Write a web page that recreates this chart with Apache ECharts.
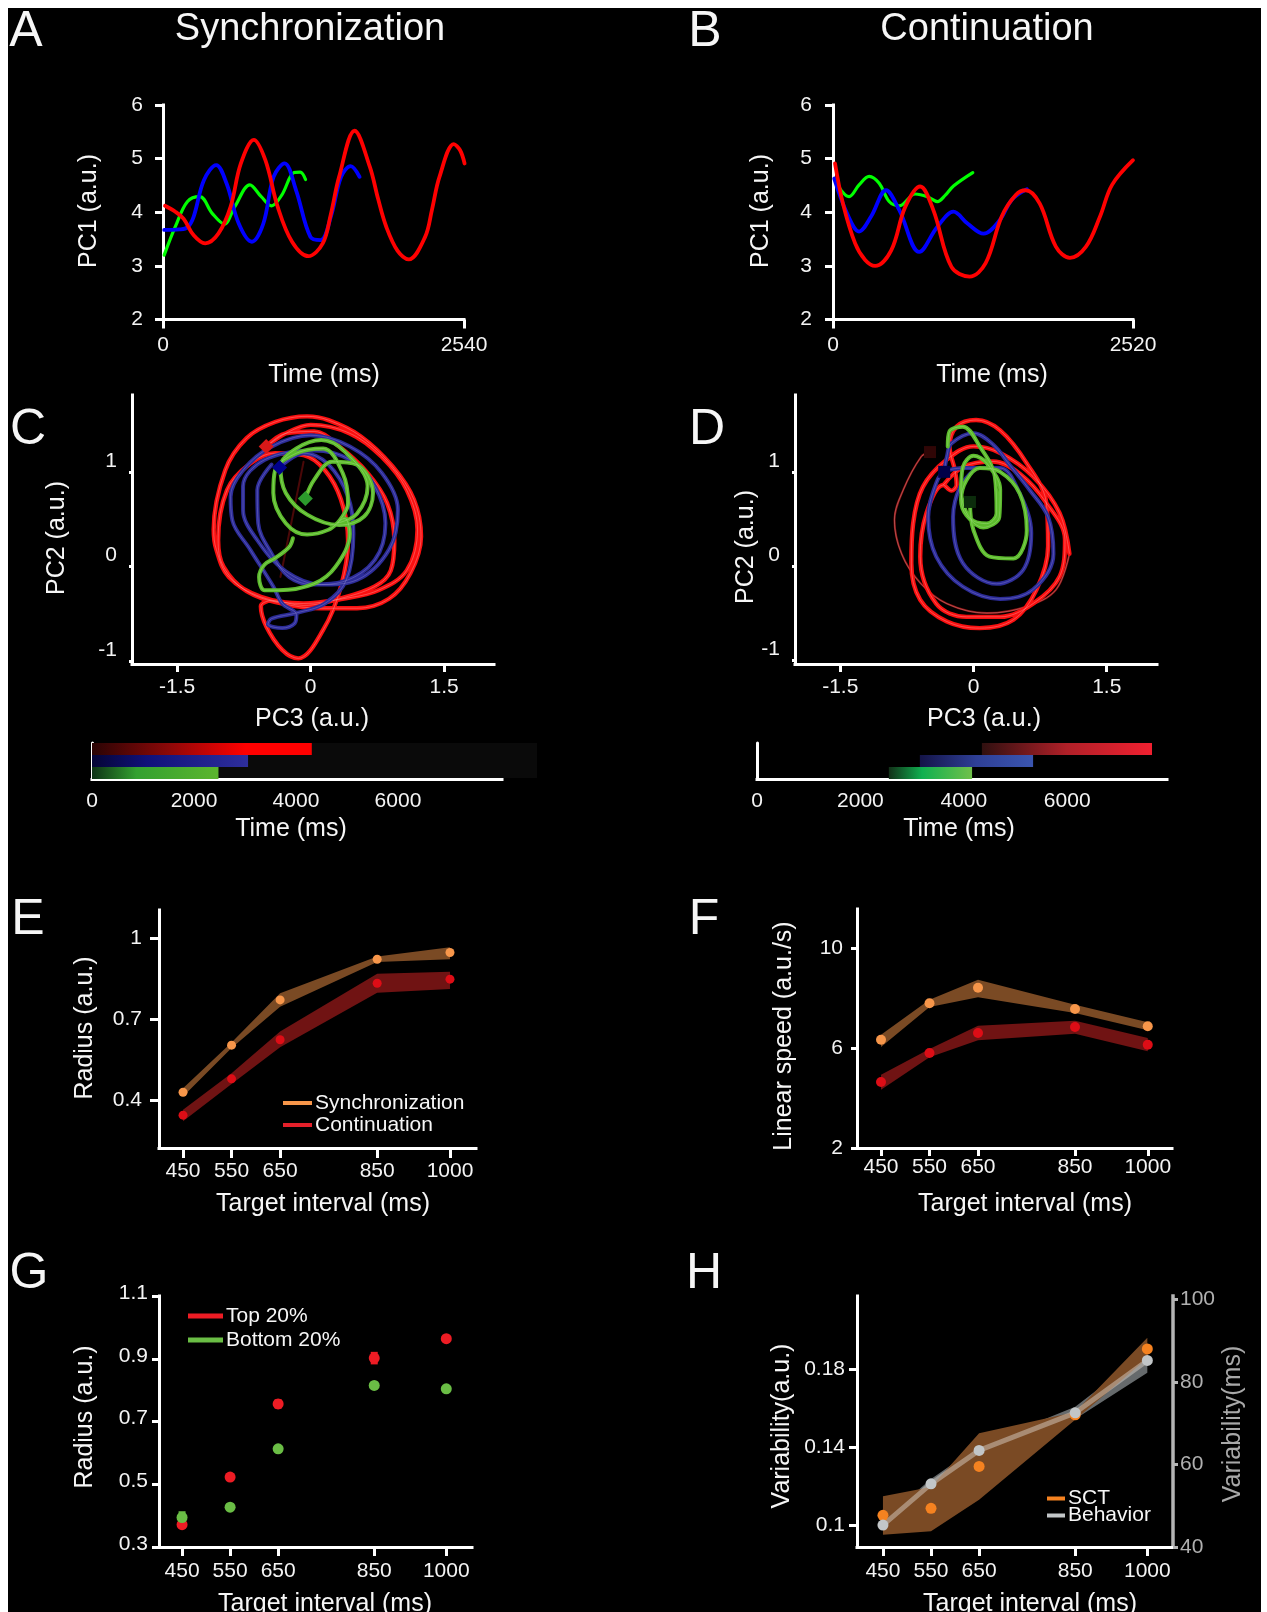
<!DOCTYPE html>
<html><head><meta charset="utf-8">
<script src="https://cdn.jsdelivr.net/npm/echarts@6/dist/echarts.min.js"></script>
<style>
html,body{margin:0;padding:0;background:#fff;}
#bg{position:absolute;left:8px;top:8px;width:1253px;height:1604px;background:#000;}
#c{position:absolute;left:0;top:0;width:1267px;height:1612px;}
</style></head><body><div id="bg"></div><div id="c"></div>
<script>
// ---------- DATA ----------
const targetIntervals=[450,550,650,850,1000];
// A: PC1 vs time, synchronization
const aRed=[[17,4.12],[104,4.01],[173,3.88],[259,3.57],[356,3.42],[467,3.60],[570,4.10],[657,4.91],[767,5.35],[864,4.97],[968,4.10],[1089,3.45],[1227,3.18],[1348,3.42],[1415,3.95],[1486,4.66],[1617,5.52],[1745,4.85],[1815,4.25],[1884,3.73],[1980,3.28],[2074,3.12],[2212,3.54],[2270,4.05],[2333,4.66],[2454,5.27],[2506,5.16],[2545,4.91]];
const aBlue=[[10,3.67],[138,3.68],[207,3.72],[259,3.92],[346,4.60],[449,4.88],[536,4.54],[639,3.79],[750,3.45],[847,3.79],[933,4.66],[1026,4.91],[1123,4.41],[1244,3.54],[1331,3.48],[1417,3.92],[1503,4.66],[1583,4.86],[1659,4.66]];
const aGreen=[[10,3.20],[104,3.73],[207,4.20],[311,4.29],[415,3.98],[518,3.78],[605,4.10],[733,4.51],[829,4.29],[916,4.12],[1002,4.32],[1106,4.74],[1158,4.75],[1203,4.61]];
// B: PC1 vs time, continuation
const bRed=[[17,4.91],[84,4.16],[186,3.42],[270,3.11],[354,3.00],[489,3.29],[607,4.10],[732,4.48],[843,4.04],[995,2.98],[1147,2.80],[1282,3.05],[1417,3.92],[1535,4.32],[1619,4.41],[1737,4.16],[1872,3.36],[1990,3.15],[2125,3.36],[2243,3.92],[2344,4.51],[2520,4.97]];
const bBlue=[[10,4.63],[118,3.98],[219,3.64],[320,3.92],[445,4.41],[557,4.04],[725,3.26],[877,3.73],[1012,4.01],[1130,3.79],[1265,3.60],[1400,3.85],[1501,4.23],[1629,4.43]];
const bGreen=[[34,4.57],[67,4.41],[135,4.29],[219,4.51],[304,4.67],[388,4.54],[472,4.20],[557,4.12],[691,4.34],[793,4.29],[877,4.20],[944,4.32],[1012,4.49],[1174,4.74]];
// C: PC3/PC2 trajectories, synchronization
const cRed=[[-.50,1.27],[-.28,1.41],[0,1.50],[.44,1.41],[.80,1.16],[1.08,.81],[1.20,.39],[1.08,-.04],[.76,-.25],[.36,-.34],[-.08,-.39],[-.56,-.32],[-.92,-.11],[-1.06,.18],[-1.09,.39],[-.96,1.02],[-.72,1.36],[-.40,1.53],[-.04,1.59],[.20,1.55],[.56,1.38],[.92,1.06],[1.16,.71],[1.24,.32],[1.12,-.07],[.88,-.34],[.52,-.44],[.12,-.44],[-.32,-.39],[-.72,-.26],[-.98,0],[-1.04,.28],[-.94,.81],[-.68,1.09],[-.40,1.20],[-.08,1.18],[.16,1.02],[.34,.71],[.42,.28],[.34,-.21],[.14,-.67],[-.14,-.97],[-.32,-.88],[-.50,-.63],[-.56,-.42],[-.44,-.36],[-.08,-.41],[.32,-.34],[.72,-.21],[.90,-.04],[.94,.28],[.86,.67],[.64,.99],[.32,1.27],[.04,1.43],[-.28,1.41],[-.50,1.27]];
const cBlue=[[-.35,1.05],[-.08,1.20],[.20,1.08],[.42,.74],[.48,.35],[.40,-.14],[.16,-.39],[-.16,-.49],[-.44,-.55],[-.48,-.61],[-.32,-.65],[-.18,-.60],[-.16,-.51],[-.32,-.39],[-.42,-.21],[-.68,.18],[-.88,.49],[-.90,.74],[-.76,1.02],[-.44,1.27],[0,1.39],[.44,1.27],[.80,.99],[.98,.60],[.88,.18],[.52,-.14],[.12,-.19],[-.28,-.05],[-.60,.28],[-.76,.60],[-.76,.85],[-.52,1.13],[.04,1.23],[.44,1.13],[.72,.85],[.84,.46],[.72,.07],[.36,-.16],[.04,-.19],[-.24,-.11],[-.44,.14],[-.59,.46],[-.60,.81],[-.44,1.08]];
const cGreen=[[-.06,.72],[.04,.92],[.24,1.11],[.52,1.08],[.70,.78],[.60,.53],[.32,.44],[-.04,.55],[-.28,.78],[-.34,1.06],[-.16,1.25],[.12,1.34],[.38,1.22],[.64,.85],[.52,.56],[.30,.46],[.42,.67],[.36,.99],[.14,1.25],[-.16,1.20],[-.40,1.02],[-.42,.78],[-.28,.46],[-.04,.34],[.20,.39],[.38,.51],[.44,.35],[.28,0],[.04,-.18],[-.36,-.25],[-.52,-.25],[-.58,-.11],[-.52,.02],[-.40,.09],[-.24,.21],[-.20,.30]];
const cStartRed=[[-.50,1.27]], cStartBlue=[[-.35,1.05]], cStartGreen=[[-.06,.72]];
const cFaintRed=[[-.34,-.11],[-.08,1.11]];
// D: PC3/PC2 trajectories, continuation
const dRedStart=[[-.49,1.21],[-.59,1.16],[-.79,.81],[-.89,.49],[-.81,.13],[-.60,-.18],[-.30,-.40],[.15,-.50],[.60,-.43],[.93,-.25],[1.08,.13]];
const dRed=[[1.08,.13],[.97,.56],[.67,.95],[.30,1.20],[0,1.27],[-.30,1.13],[-.57,.84],[-.68,.45],[-.70,.03],[-.60,-.36],[-.30,-.59],[.07,-.66],[.45,-.57],[.71,-.25],[.84,.21],[.82,.67],[.60,1.09],[.30,1.44],[.03,1.55],[-.19,1.48],[-.27,1.27],[-.21,1.02],[-.19,.86],[-.25,.80],[-.34,.86],[-.53,.56],[-.60,.10],[-.42,-.40],[-.08,-.54],[.30,-.54],[.67,-.40],[.97,-.11],[1.03,.28],[.82,.67],[.52,.98],[.22,1.11],[-.12,1.05],[-.34,.86]];
const dBlue=[[-.33,1.00],[-.30,1.16],[-.25,1.30],[0,1.41],[.22,1.29],[.41,1.07],[.63,.81],[.84,.52],[.90,.13],[.67,-.25],[.30,-.35],[-.12,-.22],[-.42,.10],[-.51,.52],[-.42,.88],[-.33,1.00],[-.08,1.04],[.30,1.04],[.52,.77],[.65,.35],[.56,-.04],[.26,-.19],[-.12,.03],[-.23,.52],[-.15,.84],[.03,1.04]];
const dGreen=[[-.04,.68],[0,.38],[.18,.10],[.45,.08],[.60,.38],[.52,.77],[.30,1.00],[.07,1.04],[-.08,.91],[-.14,.70],[-.08,.54],[.11,.41],[.29,.52],[.30,.81],[.15,1.09],[0,1.17],[-.12,1.05],[-.14,.81],[-.04,.51],[.15,.45],[.26,.56],[.24,.95],[.07,1.27],[-.12,1.48],[-.27,1.43],[-.29,1.27]];
const dStartRed=[[-.49,1.21]], dStartBlue=[[-.33,1.00]], dStartGreen=[[-.04,.68]];
// time bars (start, end in ms): green, blue, red
const barRows=['Green','Blue','Red'];
const cBarStart=[0,0,0], cBarEnd=[2480,3060,4310];
const dBarStart=[2550,3150,4350], dBarEnd=[4160,5340,7640];
const timeTicks=[0,2000,4000,6000];
// E: radius
const eSync=[.428,.603,.771,.922,.947], eSyncHi=[.443,.613,.796,.932,.967], eSyncLo=[.412,.592,.746,.912,.922];
const eCont=[.343,.478,.623,.833,.848], eContHi=[.363,.499,.654,.868,.876], eContLo=[.320,.459,.595,.798,.812];
// F: linear speed
const fSync=[6.33,7.79,8.41,7.56,6.87], fSyncHi=[6.53,7.93,8.73,7.73,7.03], fSyncLo=[6.04,7.64,8.03,7.40,6.71];
const fCont=[4.64,5.80,6.60,6.84,6.13], fContHi=[4.93,5.96,6.89,7.09,6.40], fContLo=[4.33,5.63,6.31,6.57,5.87];
// G: radius, top/bottom 20%
const gTop=[.371,.523,.756,.902,.964], gTopErr=[.006,.012,.015,.02,.006];
const gBottom=[.394,.427,.613,.815,.804], gBottomErr=[.02,.006,.006,.006,.006];
// H: variability
const hSct=[.1051,.1087,.1301,.1565,.1902], hSctHi=[.1148,.1196,.1471,.158,.196], hSctLo=[.0952,.0969,.1131,.154,.1854];
const hBeh=[45.3,55.3,63.4,72.5,85.2], hBehHi=[46.4,56.5,64.5,74,87.4], hBehLo=[44,54,62.2,71,82.2];

// ---------- HELPERS ----------
const FF='"Liberation Sans",Arial,sans-serif', WHITE='#ffffff';
const grids=[],xAxis=[],yAxis=[],series=[],graphic=[],legends=[];
function grid(l,t,r,b){grids.push({left:l,top:t,width:r-l,height:b-t,containLabel:false});return grids.length-1;}
function axis(list,g,o){
  const c=o.color||WHITE;
  const a={type:'value',gridIndex:g,min:o.min,max:o.max,position:o.position,
    axisLine:{show:true,onZero:false,lineStyle:{color:c,width:o.lw||3,cap:'square'}},
    axisTick:{show:o.tl>0,length:o.tl||0,customValues:o.ticks,lineStyle:{color:c,width:o.tw||3}},
    axisLabel:{show:true,customValues:o.ticks,margin:o.margin,color:o.labelColor||'#f4f4f4',fontSize:o.fs||21,fontFamily:FF,hideOverlap:false,showMinLabel:true,showMaxLabel:true,formatter:v=>String(v)},
    splitLine:{show:false}};
  if(o.lift){a.axisLabel.verticalAlign='bottom';a.axisLabel.lineHeight=o.lift*2;}
  list.push(a);return list.length-1;
}
const SM=.36;
function line(name,x,y,data,color,w,hi){
  series.push({type:'line',name,xAxisIndex:x,yAxisIndex:y,data,smooth:SM,showSymbol:false,symbol:'none',clip:false,silent:true,
    lineStyle:{color,width:w,cap:'round',join:'round'},z:3});
  if(hi)series.push({type:'line',name:name+' highlight',xAxisIndex:x,yAxisIndex:y,data,smooth:SM,showSymbol:false,symbol:'none',clip:false,silent:true,
    lineStyle:{color:hi,width:.8},z:3});
}
function dots(name,x,y,xs,vals,color,size,sym){
  series.push({type:'scatter',name,xAxisIndex:x,yAxisIndex:y,data:xs?xs.map((v,i)=>[v,vals[i]]):vals,symbol:sym||'circle',symbolSize:size,clip:false,silent:true,itemStyle:{color,opacity:1},z:6});
}
function band(name,x,y,xs,lo,hi,color,z){
  series.push({type:'custom',name,xAxisIndex:x,yAxisIndex:y,silent:true,clip:false,z:z||2,
    data:xs.map((v,i)=>[v,lo[i],hi[i]]),encode:{x:0,y:[1,2]},
    renderItem(p,api){
      if(p.dataIndex!==0)return null;
      const up=xs.map((v,i)=>api.coord([v,hi[i]])),dn=xs.map((v,i)=>api.coord([v,lo[i]])).reverse();
      return {type:'polygon',shape:{points:up.concat(dn)},style:{fill:color},silent:true};
    }});
}
function errs(name,x,y,xs,vals,err,color,w){
  series.push({type:'custom',name,xAxisIndex:x,yAxisIndex:y,silent:true,clip:false,z:5,
    data:xs.map((v,i)=>[v,vals[i]-err[i],vals[i]+err[i]]),encode:{x:0,y:[1,2]},
    renderItem(p,api){
      const a=api.coord([api.value(0),api.value(2)]),b=api.coord([api.value(0),api.value(1)]);
      return {type:'rect',shape:{x:a[0]-w/2,y:a[1],width:w,height:b[1]-a[1]},style:{fill:color}};
    }});
}
function txt(text,x,y,size,rot,color){
  graphic.push({type:'text',x,y:rot?y:y+2,rotation:rot?Math.PI/2:0,silent:true,z:20,
    style:{text,fill:color||'#f6f6f6',fontSize:size,fontFamily:FF,align:'center',verticalAlign:'middle'}});
}
function legend(left,top,w,h,names,colors,lh,gap){
  legends.push({show:true,left,top,orient:'vertical',padding:0,itemGap:gap||0,itemWidth:w,itemHeight:h,selectedMode:false,align:'left',itemStyle:{borderWidth:0},
    textStyle:{color:'#f6f6f6',fontSize:21,fontFamily:FF,lineHeight:lh,padding:[0,0,0,-2]},
    data:names.map((n,i)=>({name:n,icon:'rect',itemStyle:{color:colors[i]}}))});
}
function grad(stops){return {type:'linear',x:0,y:0,x2:1,y2:0,colorStops:stops.map((c,i)=>({offset:c[0],color:c[1]}))};}
function bars(name,x,y,start,end,grads){
  series.push({type:'bar',name:name+' base',xAxisIndex:x,yAxisIndex:y,stack:name,silent:true,barWidth:'100%',data:start,itemStyle:{color:'transparent'},z:3});
  series.push({type:'bar',name,xAxisIndex:x,yAxisIndex:y,stack:name,silent:true,barWidth:'100%',z:3,
    data:end.map((e,i)=>({value:e-start[i],itemStyle:{color:grad(grads[i])}}))});
}
const RED='#ff0000',BLUE='#0000ff',GREEN='#00ff00';
const TR='#fa1010',TB='#2c2c98',TG='#5cbc2c';
const HR='rgba(255,205,205,.4)',HB='rgba(190,180,240,.35)',HG='rgba(210,245,190,.35)';
const ORANGE='#f7964a',DRED='#dd0d16',BROWN='#7a4a24',MAROON='#701313';

// ---------- PANEL A ----------
let g=grid(163,105,464,319.5);
let xa=axis(xAxis,g,{min:0,max:2540,ticks:[0,2540],tl:9,margin:15});
let ya=axis(yAxis,g,{min:2,max:6,ticks:[2,3,4,5,6],tl:8,margin:20});
line('A green',xa,ya,aGreen,GREEN,3.2);line('A blue',xa,ya,aBlue,BLUE,3.8);line('A red',xa,ya,aRed,RED,3.8);
txt('A',26,30,50);txt('Synchronization',310,28,38);txt('Time (ms)',324,373,25);txt('PC1 (a.u.)',89,211,25,true);
// ---------- PANEL B ----------
g=grid(833,105,1133,319.5);
xa=axis(xAxis,g,{min:0,max:2520,ticks:[0,2520],tl:9,margin:15});
ya=axis(yAxis,g,{min:2,max:6,ticks:[2,3,4,5,6],tl:8,margin:21});
line('B green',xa,ya,bGreen,GREEN,3.2);line('B blue',xa,ya,bBlue,BLUE,3.8);line('B red',xa,ya,bRed,RED,3.8);
txt('B',705,30,50);txt('Continuation',987,28,38);txt('Time (ms)',992,373,25);txt('PC1 (a.u.)',761,211,25,true);
// ---------- PANEL C ----------
g=grid(132,395,494,664);
xa=axis(xAxis,g,{min:-2.008,max:2.06,ticks:[-1.5,0,1.5],tl:8,margin:13});
ya=axis(yAxis,g,{min:-1.03,max:1.816,ticks:[-1,0,1],tl:3,margin:15,lift:11});
line('C faint',xa,ya,cFaintRed,'#4a0808',2);
line('C red',xa,ya,cRed,TR,4.4,HR);line('C blue',xa,ya,cBlue,TB,4,HB);line('C green',xa,ya,cGreen,TG,4,HG);
dots('C start red',xa,ya,null,cStartRed,'#d81818',15,'diamond');
dots('C start blue',xa,ya,null,cStartBlue,'#00008c',15,'diamond');
dots('C start green',xa,ya,null,cStartGreen,'#2c9a2c',15,'diamond');
txt('C',28,428,50);txt('PC3 (a.u.)',312,717,25);txt('PC2 (a.u.)',57,538,25,true);
// ---------- PANEL D ----------
g=grid(795,395,1157,664);
xa=axis(xAxis,g,{min:-2.01,max:2.066,ticks:[-1.5,0,1.5],tl:8,margin:13});
ya=axis(yAxis,g,{min:-1.041,max:1.816,ticks:[-1,0,1],tl:3,margin:15,lift:11});
line('D red start',xa,ya,dRedStart,'#8f1212',2,HR);
line('D red',xa,ya,dRed,TR,4.4,HR);line('D blue',xa,ya,dBlue,TB,4,HB);line('D green',xa,ya,dGreen,TG,4,HG);
dots('D start red',xa,ya,null,dStartRed,'#300606',12,'rect');
dots('D start blue',xa,ya,null,dStartBlue,'#000048',12,'rect');
dots('D start green',xa,ya,null,dStartGreen,'#0c2c0c',12,'rect');
txt('D',707,428,50);txt('PC3 (a.u.)',984,717,25);txt('PC2 (a.u.)',746,547,25,true);
// ---------- TIME BARS ----------
graphic.push({type:'rect',shape:{x:93,y:743,width:444,height:35},style:{fill:'#0a0a0a'},silent:true,z:-1});
g=grid(92,743,502,779);
xa=axis(xAxis,g,{min:0,max:8040,ticks:timeTicks,tl:0,margin:12});
yAxis.push({type:'category',gridIndex:g,data:barRows,axisLine:{show:true,lineStyle:{color:WHITE,width:3}},axisTick:{show:false},axisLabel:{show:false}});
ya=yAxis.length-1;
bars('C time',xa,ya,cBarStart,cBarEnd,[[[0,'#0e3216'],[.35,'#33a030'],[1,'#5cb52e']],[[0,'#050535'],[.35,'#10107a'],[1,'#2e2e9c']],[[0,'#2a0404'],[.35,'#8c0808'],[.7,'#ff0000'],[1,'#ff0000']]]);
txt('Time (ms)',291,827,25);
g=grid(757,743,1167,779);
xa=axis(xAxis,g,{min:0,max:7930,ticks:timeTicks,tl:0,margin:12});
yAxis.push({type:'category',gridIndex:g,data:barRows,axisLine:{show:true,lineStyle:{color:WHITE,width:3}},axisTick:{show:false},axisLabel:{show:false}});
ya=yAxis.length-1;
bars('D time',xa,ya,dBarStart,dBarEnd,[[[0,'#123018'],[.4,'#10b050'],[1,'#70c04a']],[[0,'#141448'],[.5,'#2e3f96'],[1,'#3a55b0']],[[0,'#301010'],[.5,'#b02028'],[1,'#f02030']]]);
txt('Time (ms)',959,827,25);
// ---------- PANEL E ----------
g=grid(159,910,476,1148);
xa=axis(xAxis,g,{min:400.5,max:1053.6,ticks:targetIntervals,tl:10,margin:13});
ya=axis(yAxis,g,{min:.221,max:1.105,ticks:[.4,.7,1],tl:9,margin:17});
band('E sync band',xa,ya,targetIntervals,eSyncLo,eSyncHi,BROWN);band('E cont band',xa,ya,targetIntervals,eContLo,eContHi,MAROON);
dots('Synchronization',xa,ya,targetIntervals,eSync,ORANGE,9);dots('Continuation',xa,ya,targetIntervals,eCont,DRED,9);
legend(283,1092,29,4,['Synchronization','Continuation'],[ORANGE,'#e4202a'],22);
txt('E',28,918,50);txt('Target interval (ms)',323,1202,25);txt('Radius (a.u.)',85,1028,25,true);
// ---------- PANEL F ----------
g=grid(857,909,1172,1148);
xa=axis(xAxis,g,{min:400.5,max:1050,ticks:targetIntervals,tl:8,margin:9});
ya=axis(yAxis,g,{min:2,max:11.56,ticks:[2,6,10],tl:6,margin:14});
band('F sync band',xa,ya,targetIntervals,fSyncLo,fSyncHi,BROWN);band('F cont band',xa,ya,targetIntervals,fContLo,fContHi,MAROON);
dots('Synchronization',xa,ya,targetIntervals,fSync,ORANGE,10);dots('Continuation',xa,ya,targetIntervals,fCont,DRED,10);
txt('F',704,918,50);txt('Target interval (ms)',1025,1202,25);txt('Linear speed (a.u./s)',784,1036,25,true);
// ---------- PANEL G ----------
g=grid(159,1296,472,1547);
xa=axis(xAxis,g,{min:402,max:1053.5,ticks:targetIntervals,tl:9,margin:14});
ya=axis(yAxis,g,{min:.3,max:1.1,ticks:[.3,.5,.7,.9,1.1],tl:7,margin:11,lift:3});
errs('G top err',xa,ya,targetIntervals,gTop,gTopErr,'#ed1c24',7);errs('G bottom err',xa,ya,targetIntervals,gBottom,gBottomErr,'#6abd45',7);
dots('Top 20%',xa,ya,targetIntervals,gTop,'#ed1c24',11);dots('Bottom 20%',xa,ya,targetIntervals,gBottom,'#6abd45',11);
legend(188,1304,35,5,['Top 20%','Bottom 20%'],['#ed1c24','#6abd45'],24);
txt('G',29,1272,50);txt('Target interval (ms)',325,1602,25);txt('Radius (a.u.)',85,1417,25,true);
// ---------- PANEL H ----------
g=grid(857,1296,1173,1547);
xa=axis(xAxis,g,{min:396,max:1053.4,ticks:targetIntervals,tl:9,margin:14});
ya=axis(yAxis,g,{min:.0889,max:.2173,ticks:[.1,.14,.18],tl:8,margin:12});
let yb=axis(yAxis,g,{min:40,max:100.8,ticks:[40,60,80,100],tl:5,margin:7,position:'right',color:'#b4b4b4',labelColor:'#b0b0b0',lw:3.5});
band('H behavior band',xa,yb,targetIntervals,hBehLo,hBehHi,'#666a6c',2);
band('H sct band',xa,ya,targetIntervals,hSctLo,hSctHi,BROWN,3);
series.push({type:'line',name:'H behavior line',xAxisIndex:xa,yAxisIndex:yb,data:targetIntervals.map((v,i)=>[v,hBeh[i]]),showSymbol:false,symbol:'none',silent:true,lineStyle:{color:'rgba(215,205,195,.5)',width:5},z:4});
dots('SCT',xa,ya,targetIntervals,hSct,'#f58220',11);dots('Behavior',xa,yb,targetIntervals,hBeh,'#c2c6c8',11);
legend(1047,1488,18,4,['SCT','Behavior'],['#f58220','#c2c6c8'],17,-4);
txt('H',704,1272,50);txt('Target interval (ms)',1030,1602,25);txt('Variability(a.u.)',782,1426,25,true);txt('Variability(ms)',1233,1424,25,true,'#a8a8a8');

const chart=echarts.init(document.getElementById('c'),null,{renderer:'canvas',width:1267,height:1612});
chart.setOption({backgroundColor:'transparent',animation:false,textStyle:{fontFamily:FF},grid:grids,xAxis,yAxis,series,legend:legends,graphic:{elements:graphic}});
</script></body></html>
